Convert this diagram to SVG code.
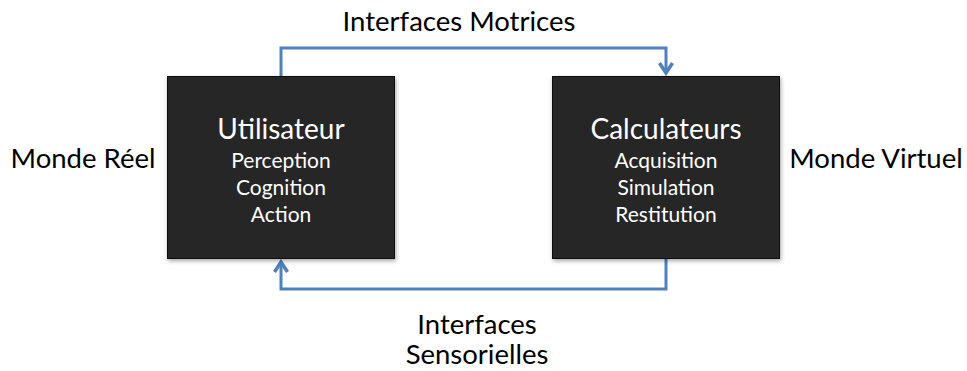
<svg xmlns="http://www.w3.org/2000/svg" width="967" height="371" viewBox="0 0 967 371">
<style>
text{font-family:Lato,"Open Sans","Liberation Sans",sans-serif;text-anchor:middle}
.lbl{font-size:27.5px;fill:#000}
.title{font-size:28px;fill:#fff}
.sub{font-size:21px;fill:#fff}
.box{fill:#262626;stroke:#111;stroke-width:1}
.conn{fill:none;stroke:#4f81bd;stroke-width:3;stroke-linejoin:miter}
</style>
<defs>
<filter id="sh" x="-10%" y="-10%" width="120%" height="120%">
<feDropShadow dx="1" dy="2" stdDeviation="2" flood-color="#000" flood-opacity="0.35"/>
</filter>
<marker id="arr" viewBox="0 0 16 16" refX="13" refY="8" markerWidth="16" markerHeight="16" markerUnits="userSpaceOnUse" orient="auto">
<path d="M3,1.5 L13,8 L3,14.5" fill="none" stroke="#4f81bd" stroke-width="3.5"/>
</marker>
</defs>
<g id="connectors">
<path class="conn" d="M281,76 V48 H666 V73" marker-end="url(#arr)"/>
<path class="conn" d="M666,259 V289 H281 V262" marker-end="url(#arr)"/>
</g>
<g id="utilisateur">
<rect class="box" x="167.5" y="76.5" width="227" height="182" filter="url(#sh)"/>
<text class="title" x="281" y="139">Utilisateur</text>
<text class="sub" x="281" y="168">Perception</text>
<text class="sub" x="281" y="195">Cognition</text>
<text class="sub" x="281" y="222">Action</text>
</g>
<g id="calculateurs">
<rect class="box" x="552.5" y="76.5" width="227" height="182" filter="url(#sh)"/>
<text class="title" x="666" y="139">Calculateurs</text>
<text class="sub" x="666" y="168">Acquisition</text>
<text class="sub" x="666" y="195">Simulation</text>
<text class="sub" x="666" y="222">Restitution</text>
</g>
<g id="labels">
<text class="lbl" x="459" y="31">Interfaces Motrices</text>
<text class="lbl" x="83" y="168">Monde Réel</text>
<text class="lbl" x="876" y="168">Monde Virtuel</text>
<text class="lbl" x="477" y="334">Interfaces</text>
<text class="lbl" x="477" y="364">Sensorielles</text>
</g>
</svg>
